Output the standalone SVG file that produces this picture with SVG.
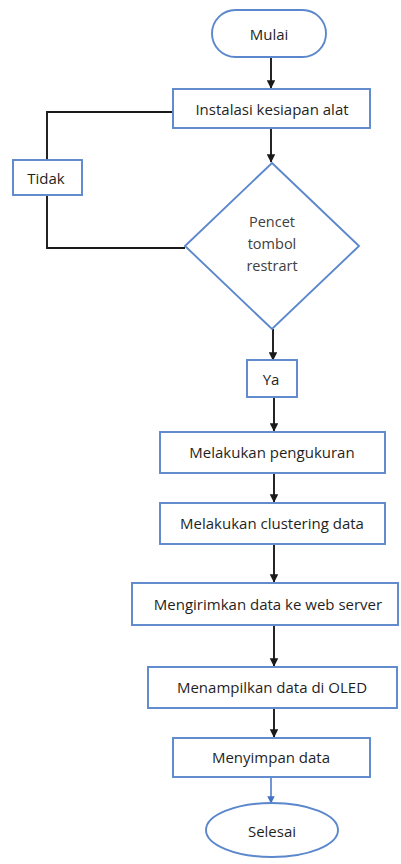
<svg xmlns="http://www.w3.org/2000/svg" width="401" height="864" viewBox="0 0 401 864">
  <style>
    .shape { fill: #ffffff; stroke: #5b87cc; stroke-width: 1.9; }
    .lbl { font-family: "Open Sans", "Liberation Sans", sans-serif; font-size: 15px; font-weight: 500; fill: #1f1f1f; text-anchor: middle; dominant-baseline: central; }
    .dlbl { font-family: "Open Sans", "Liberation Sans", sans-serif; font-size: 14.5px; fill: #404040; text-anchor: middle; dominant-baseline: central; }
    .flow { fill: none; stroke: #1a1a1a; stroke-width: 1.9; }
    .flow-blue { fill: none; stroke: #4472c4; stroke-width: 1.5; }
  </style>
  <defs>
    <marker id="arrow" viewBox="0 0 10 10" refX="9" refY="5" markerWidth="4.5" markerHeight="4.5" orient="auto" markerUnits="strokeWidth">
      <path d="M0,0 L10,5 L0,10 z" fill="#1a1a1a"/>
    </marker>
    <marker id="arrow-blue" viewBox="0 0 10 10" refX="9" refY="5" markerWidth="5" markerHeight="5" orient="auto" markerUnits="strokeWidth">
      <path d="M0,0 L10,5 L0,10 z" fill="#4472c4"/>
    </marker>
  </defs>
  <rect width="401" height="864" fill="#ffffff"/>

  <g id="connectors">
    <line class="flow" x1="271" y1="58" x2="271" y2="88" marker-end="url(#arrow)"/>
    <line class="flow" x1="271" y1="129" x2="271" y2="162" marker-end="url(#arrow)"/>
    <polyline class="flow" points="173,112 47,112 47,160"/>
    <polyline class="flow" points="47,196 47,248 185,248"/>
    <line class="flow" x1="273" y1="329" x2="273" y2="360" marker-end="url(#arrow)"/>
    <line class="flow" x1="274" y1="398" x2="274" y2="431" marker-end="url(#arrow)"/>
    <line class="flow" x1="274" y1="474" x2="274" y2="502" marker-end="url(#arrow)"/>
    <line class="flow" x1="274" y1="545" x2="274" y2="582" marker-end="url(#arrow)"/>
    <line class="flow" x1="274" y1="626" x2="274" y2="666" marker-end="url(#arrow)"/>
    <line class="flow" x1="274" y1="709" x2="274" y2="737" marker-end="url(#arrow)"/>
    <line class="flow-blue" x1="271" y1="778" x2="271" y2="803" marker-end="url(#arrow-blue)"/>
  </g>

  <g id="mulai">
    <rect class="shape" x="212" y="10" width="114" height="47" rx="23.5" ry="23.5"/>
    <text class="lbl" x="269" y="34">Mulai</text>
  </g>

  <g id="instalasi">
    <rect class="shape" x="173" y="89" width="197" height="39"/>
    <text class="lbl" x="272" y="109">Instalasi kesiapan alat</text>
  </g>

  <g id="tidak">
    <rect class="shape" x="13" y="160" width="69" height="35"/>
    <text class="lbl" x="46" y="178">Tidak</text>
  </g>

  <g id="keputusan">
    <polygon class="shape" points="272,163 359,246 272,329 185,246"/>
    <text class="dlbl" x="272" y="221">Pencet</text>
    <text class="dlbl" x="272" y="243">tombol</text>
    <text class="dlbl" x="272" y="265">restrart</text>
  </g>

  <g id="ya">
    <rect class="shape" x="247" y="360" width="50" height="37"/>
    <text class="lbl" x="271" y="379">Ya</text>
  </g>

  <g id="pengukuran">
    <rect class="shape" x="160" y="432" width="225" height="41"/>
    <text class="lbl" x="272" y="452">Melakukan pengukuran</text>
  </g>

  <g id="clustering">
    <rect class="shape" x="160" y="503" width="225" height="41"/>
    <text class="lbl" x="272" y="523">Melakukan clustering data</text>
  </g>

  <g id="kirim">
    <rect class="shape" x="132" y="583" width="266" height="42"/>
    <text class="lbl" x="268" y="604">Mengirimkan data ke web server</text>
  </g>

  <g id="oled">
    <rect class="shape" x="148" y="667" width="249" height="41"/>
    <text class="lbl" x="272" y="687">Menampilkan data di OLED</text>
  </g>

  <g id="simpan">
    <rect class="shape" x="173" y="738" width="197" height="39"/>
    <text class="lbl" x="271" y="757">Menyimpan data</text>
  </g>

  <g id="selesai">
    <ellipse class="shape" cx="272" cy="830" rx="66" ry="27"/>
    <text class="lbl" x="272" y="831">Selesai</text>
  </g>
</svg>
